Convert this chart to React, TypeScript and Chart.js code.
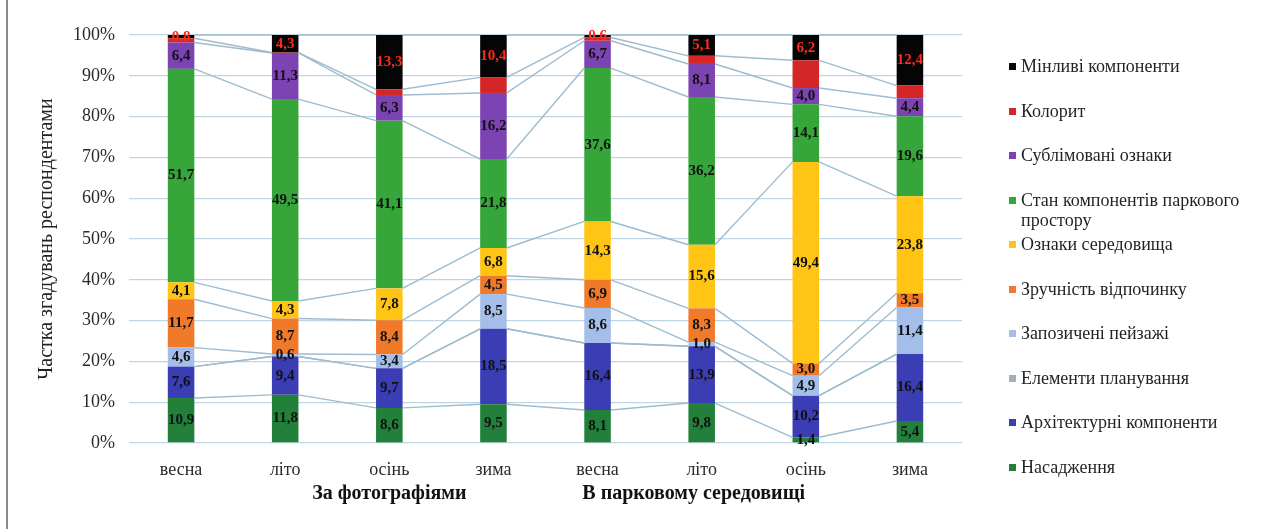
import React, { useEffect, useRef } from "react";
import { Chart, registerables } from "chart.js";

Chart.register(...registerables);

// ---- data ----
const categories = ["весна", "літо", "осінь", "зима", "весна", "літо", "осінь", "зима"];
const groupLabels = ["За фотографіями", "В парковому середовищі"];
const yTicks = [0, 10, 20, 30, 40, 50, 60, 70, 80, 90, 100];
const yTitle = "Частка згадувань респондентами";

// series, bottom to top of the stack
const nasadzhennia = [10.9, 11.8, 8.6, 9.5, 8.1, 9.8, 1.4, 5.4];
const arkhitekturni = [7.6, 9.4, 9.7, 18.5, 16.4, 13.9, 10.2, 16.4];
const elementyPlanuvannia = [0, 0, 0, 0, 0, 0, 0, 0];
const zapozycheniPeizazhi = [4.6, 0.6, 3.4, 8.5, 8.6, 1.0, 4.9, 11.4];
const zruchnistVidpochynku = [11.7, 8.7, 8.4, 4.5, 6.9, 8.3, 3.0, 3.5];
const oznakySeredovyshcha = [4.1, 4.3, 7.8, 6.8, 14.3, 15.6, 49.4, 23.8];
const stanKomponentiv = [51.7, 49.5, 41.1, 21.8, 37.6, 36.2, 14.1, 19.6];
const sublimovaniOznaky = [6.4, 11.3, 6.3, 16.2, 6.7, 8.1, 4.0, 4.4];
const koloryt = [1.0, 0.1, 1.4, 3.8, 0.8, 2.0, 6.8, 3.1];
const minlyviKomponenty = [0.8, 4.3, 13.3, 10.4, 0.6, 5.1, 6.2, 12.4];

const seriesNames = [
  "Насадження",
  "Архітектурні компоненти",
  "Елементи планування",
  "Запозичені пейзажі",
  "Зручність відпочинку",
  "Ознаки середовища",
  "Стан компонентів паркового простору",
  "Сублімовані ознаки",
  "Колорит",
  "Мінливі компоненти",
];
const seriesValues = [
  nasadzhennia,
  arkhitekturni,
  elementyPlanuvannia,
  zapozycheniPeizazhi,
  zruchnistVidpochynku,
  oznakySeredovyshcha,
  stanKomponentiv,
  sublimovaniOznaky,
  koloryt,
  minlyviKomponenty,
];
const seriesColors = [
  "#22803b",
  "#3a3db3",
  "#a3aebb",
  "#a3bfe9",
  "#f07a2a",
  "#ffc414",
  "#37a63a",
  "#7c43b2",
  "#d42626",
  "#050505",
];
const labelColors = ["#111", "#111", "#111", "#111", "#111", "#111", "#111", "#111", "#111", "#ff2a1a"];
const showLabels = [true, true, false, true, true, true, true, true, false, true];

const SERIF = "'Liberation Serif', 'Times New Roman', serif";
const fmt = (v: number) => v.toFixed(1).replace(".", ",");

const overlayPlugin = {
  id: "overlay",
  afterDatasetsDraw(chart: any) {
    const ctx = chart.ctx as CanvasRenderingContext2D;
    ctx.save();
    // series lines
    ctx.strokeStyle = "#9dbccf";
    ctx.lineWidth = 1.4;
    chart.data.datasets.forEach((_ds: any, di: number) => {
      const meta = chart.getDatasetMeta(di);
      for (let i = 0; i < meta.data.length - 1; i++) {
        const a: any = meta.data[i];
        const b: any = meta.data[i + 1];
        ctx.beginPath();
        ctx.moveTo(a.x + a.width / 2, a.y);
        ctx.lineTo(b.x - b.width / 2, b.y);
        ctx.stroke();
      }
    });
    // value labels
    ctx.font = `bold 15px ${SERIF}`;
    ctx.textAlign = "center";
    ctx.textBaseline = "middle";
    chart.data.datasets.forEach((_ds: any, di: number) => {
      if (!showLabels[di]) return;
      const meta = chart.getDatasetMeta(di);
      meta.data.forEach((el: any, i: number) => {
        const raw = seriesValues[di][i];
        if (!raw) return;
        ctx.fillStyle = labelColors[di];
        ctx.fillText(fmt(raw), el.x, (el.y + el.base) / 2);
      });
    });
    ctx.restore();
  },
  afterDraw(chart: any) {
    const ctx = chart.ctx as CanvasRenderingContext2D;
    const area = chart.chartArea;
    const xs = chart.scales.x;
    ctx.save();
    // y axis title
    ctx.fillStyle = "#222";
    ctx.font = `20px ${SERIF}`;
    ctx.textAlign = "center";
    ctx.textBaseline = "middle";
    ctx.translate(47, (area.top + area.bottom) / 2);
    ctx.rotate(-Math.PI / 2);
    ctx.fillText(yTitle, 0, 0);
    ctx.restore();
    // group labels
    ctx.save();
    ctx.fillStyle = "#111";
    ctx.font = `bold 20px ${SERIF}`;
    ctx.textAlign = "center";
    ctx.textBaseline = "middle";
    ctx.fillText(groupLabels[0], xs.getPixelForValue(2), area.bottom + 51);
    ctx.fillText(groupLabels[1], xs.getPixelForValue(5) - 8, area.bottom + 51);
    ctx.restore();
  },
};

export default function App() {
  const canvasRef = useRef<HTMLCanvasElement | null>(null);

  useEffect(() => {
    if (!canvasRef.current) return;
    const totals = categories.map((_, i) => seriesValues.reduce((s, arr) => s + arr[i], 0));
    const chart = new Chart(canvasRef.current, {
      type: "bar",
      data: {
        labels: categories,
        datasets: seriesNames.map((name, di) => ({
          label: name,
          data: seriesValues[di].map((v, i) => (v / totals[i]) * 100),
          backgroundColor: seriesColors[di],
          borderWidth: 0,
          barPercentage: 0.5,
          categoryPercentage: 0.51,
        })),
      },
      options: {
        responsive: false,
        animation: false,
        devicePixelRatio: 1,
        layout: { padding: { top: 35, right: 307, bottom: 0, left: 0 } },
        plugins: {
          legend: { display: false },
          tooltip: { enabled: false },
        },
        scales: {
          x: {
            stacked: true,
            grid: { display: false },
            border: { display: false },
            ticks: {
              font: { family: SERIF, size: 18 },
              color: "#2a2a2a",
              padding: 8,
              maxRotation: 0,
            },
            afterFit: (s: any) => {
              s.height = 86;
            },
          },
          y: {
            stacked: true,
            min: 0,
            max: 100,
            afterBuildTicks: (s: any) => {
              s.ticks = yTicks.map((v) => ({ value: v }));
            },
            ticks: {
              callback: (v: any) => `${v}%`,
              font: { family: SERIF, size: 18 },
              color: "#2a2a2a",
              padding: 14,
            },
            grid: { color: "#bfd5e4", lineWidth: 1.3, drawTicks: false },
            border: { display: false },
            afterFit: (s: any) => {
              s.width = 129;
            },
          },
        },
      },
      plugins: [overlayPlugin],
    });
    return () => chart.destroy();
  }, []);

  const legendOrder = [...seriesNames.keys()].reverse();

  return (
    <div
      style={{
        position: "absolute",
        left: 0,
        top: 0,
        width: 1269,
        height: 529,
        background: "#fff",
        overflow: "hidden",
      }}
    >
      <div style={{ position: "absolute", left: 6, top: 0, width: 2, height: 529, background: "#8a8a8a" }} />
      <canvas ref={canvasRef} width={1269} height={529} style={{ position: "absolute", left: 0, top: 0 }} />
      {legendOrder.map((di, k) => (
        <div
          key={di}
          style={{
            position: "absolute",
            left: 1009,
            top: 56 + k * 44.5,
            fontFamily: SERIF,
            fontSize: 18,
            lineHeight: "20px",
            color: "#1e2226",
            display: "flex",
            alignItems: "flex-start",
            width: 256,
          }}
        >
          <span
            style={{
              display: "inline-block",
              width: 7,
              height: 7,
              background: seriesColors[di],
              marginTop: 7,
              marginRight: 5,
              flex: "0 0 auto",
            }}
          />
          <span>{seriesNames[di]}</span>
        </div>
      ))}
    </div>
  );
}
